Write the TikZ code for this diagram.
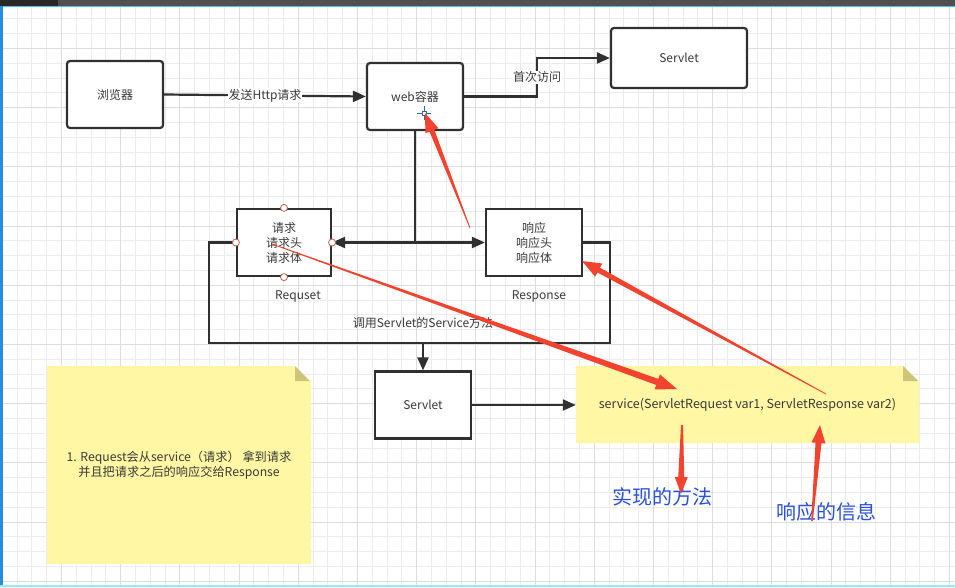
\documentclass[tikz,border=0pt]{standalone}
\usepackage{fontspec}
\setmainfont{Noto Sans CJK SC}
\usetikzlibrary{arrows.meta,calc}
\definecolor{dark}{HTML}{303030}
\definecolor{txt}{HTML}{3A3A3A}
\definecolor{gridmin}{HTML}{ECECEC}
\definecolor{gridmaj}{HTML}{DDDDDD}
\definecolor{noteyel}{HTML}{FFF7A3}
\definecolor{notefold}{HTML}{CEC57A}
\definecolor{redann}{HTML}{F2432F}
\definecolor{bluetxt}{HTML}{2B4FE0}
\definecolor{handle}{HTML}{C0604F}
\definecolor{cross}{HTML}{2F6E8E}
\definecolor{barmid}{HTML}{505050}
\definecolor{bardark}{HTML}{282828}
\definecolor{topblue}{HTML}{55BEF0}
\definecolor{leftblue}{HTML}{288CE1}
\definecolor{botcyan}{HTML}{96EBF8}
\newcommand\taparrow[6]{%
  \coordinate (tabase) at ($(#2)!#5!(#1)$);
  \fill[redann] ($(#1)!#3!90:(#2)$) -- ($(tabase)!#4!90:(#2)$) -- ($(tabase)!#6!90:(#2)$) -- (#2)
    -- ($(tabase)!#6!-90:(#2)$) -- ($(tabase)!#4!-90:(#2)$) -- ($(#1)!#3!-90:(#2)$) -- cycle;}
\begin{document}
\begin{tikzpicture}[x=1pt,y=-1pt,
  box/.style={draw=dark, line width=2.2pt, fill=white, minimum width=96pt, minimum height=67pt,
    inner sep=0pt, text=txt, font=\fontsize{12}{15}\selectfont, align=center},
  rbox/.style={box, rounded corners=3pt},
  conn/.style={draw=dark, line width=2.2pt},
  arr/.style={conn, -{Triangle[length=13pt,width=11pt]}},
  lbl/.style={fill=white, inner sep=1pt, text=txt, font=\fontsize{12}{15}\selectfont},
  plain/.style={inner sep=0pt, text=txt, font=\fontsize{12}{15}\selectfont, align=center},
  handlept/.style={circle, draw=handle, fill=white, line width=0.8pt, inner sep=0pt, minimum size=7pt},
  gmin/.style={draw=gridmin, line width=0.8pt},
  gmaj/.style={draw=gridmaj, line width=0.8pt},
  bluelbl/.style={text=bluetxt, inner sep=0pt, font=\fontsize{20}{22}\selectfont}]
\useasboundingbox (0,0) rectangle (955,587);
\fill[white] (0,0) rectangle (955,587);
% grid
\foreach \i in {0,...,64}{\draw[gmin] ({2.2+14.8*\i},6) -- ({2.2+14.8*\i},587);}
\foreach \i in {1,...,40}{\draw[gmin] (0,{-10.9+14.8*\i}) -- (955,{-10.9+14.8*\i});}
\foreach \i in {0,...,16}{\draw[gmaj] ({2.2+59.2*\i},6) -- ({2.2+59.2*\i},587);}
\foreach \i in {0,...,9}{\draw[gmaj] (0,{48.3+59.2*\i}) -- (955,{48.3+59.2*\i});}
% window frame
\fill[barmid] (0,0) rectangle (955,6);
\fill[bardark] (0,0) rectangle (58,6);
\draw[topblue, line width=1.5pt] (0,6.5) -- (955,6.5);
\draw[leftblue, line width=3pt] (1.5,6) -- (1.5,587);
\draw[botcyan, line width=2pt] (0,586) -- (955,586);
% nodes
\node[rbox] (browser) at (115,94.5) {浏览器};
\node[rbox] (web) at (415,96.5) {web容器};
\node[rbox, minimum width=136pt, minimum height=60pt] (servlet1) at (679,58) {Servlet};
\node[box, minimum width=94pt] (req) at (284,242.5) {请求\\请求头\\请求体};
\node[box] (resp) at (534,242.5) {响应\\响应头\\响应体};
\node[box] (servlet2) at (423,405) {Servlet};
\node[plain] (reqlbl) at (298,296) {Requset};
\node[plain] (resplbl) at (539,296) {Response};
% notes
\fill[noteyel] (576,366) -- (903,366) -- (919,382) -- (919,443) -- (576,443) -- cycle;
\fill[notefold] (903,366) -- (903,381) -- (918,381) -- cycle;
\fill[noteyel] (47,366) -- (295,366) -- (311,382) -- (311,564) -- (47,564) -- cycle;
\fill[notefold] (295,366) -- (295,381) -- (310,381) -- cycle;
\node[plain, minimum width=343pt, minimum height=77pt, font=\fontsize{12.5}{15}\selectfont] (sig) at (747.5,405)
  {service(ServletRequest var1, ServletResponse var2)};
\node[plain, font=\fontsize{12.2}{15}\selectfont] (note) at (179,465)
  {1. Request会从service（请求） 拿到请求\\并且把请求之后的响应交给Response};
% connectors
\draw[arr] (browser.east) -- node[lbl]{发送Http请求} (web.west);
\draw[arr] (web.east) -- ++(73,0) |- node[lbl, pos=0.25]{首次访问} (servlet1.west);
\coordinate (junc) at (415,242.5);
\draw[conn] (web.south) -- (junc);
\draw[arr] (junc) -- (req.east);
\draw[arr] (junc) -- (resp.west);
\coordinate (loopl) at (209,343);
\coordinate (loopr) at (610,343);
\coordinate (loopm) at (423,343);
\draw[conn] (req.west) -| (loopl) -- (loopr) |- (resp.east);
\node[plain] (calllbl) at (423,323) {调用Servlet的Service方法};
\draw[arr] (loopm) -- (servlet2.north);
\draw[arr] (servlet2.east) -- (sig.west);
% handles
\node[handlept] (h1) at (req.north) {};
\node[handlept] (h2) at (req.south) {};
\node[handlept] (h3) at (req.west) {};
\node[handlept] (h4) at (req.east) {};
% crosshair
\draw[cross, line width=1pt] (417,113) -- (431,113) (424,106) -- (424,120);
\draw[cross, fill=white, line width=1pt] (422,111) rectangle (426,115);
% blue labels
\node[bluelbl] (impl) at (662,497) {实现的方法};
\node[bluelbl] (respinfo) at (826,512) {响应的信息};
% red annotation arrows
\taparrow{470,228}{425,113}{0.4pt}{2.6pt}{19pt}{7pt}
\taparrow{272,244}{677,389}{0.4pt}{3.2pt}{21pt}{8pt}
\taparrow{826,394}{582,261}{0.4pt}{2.7pt}{19pt}{7.5pt}
\taparrow{682,425}{681,494}{1pt}{3pt}{17pt}{6.5pt}
\taparrow{812,521}{820,425}{0.8pt}{3pt}{18pt}{7pt}
\end{tikzpicture}
\end{document}
